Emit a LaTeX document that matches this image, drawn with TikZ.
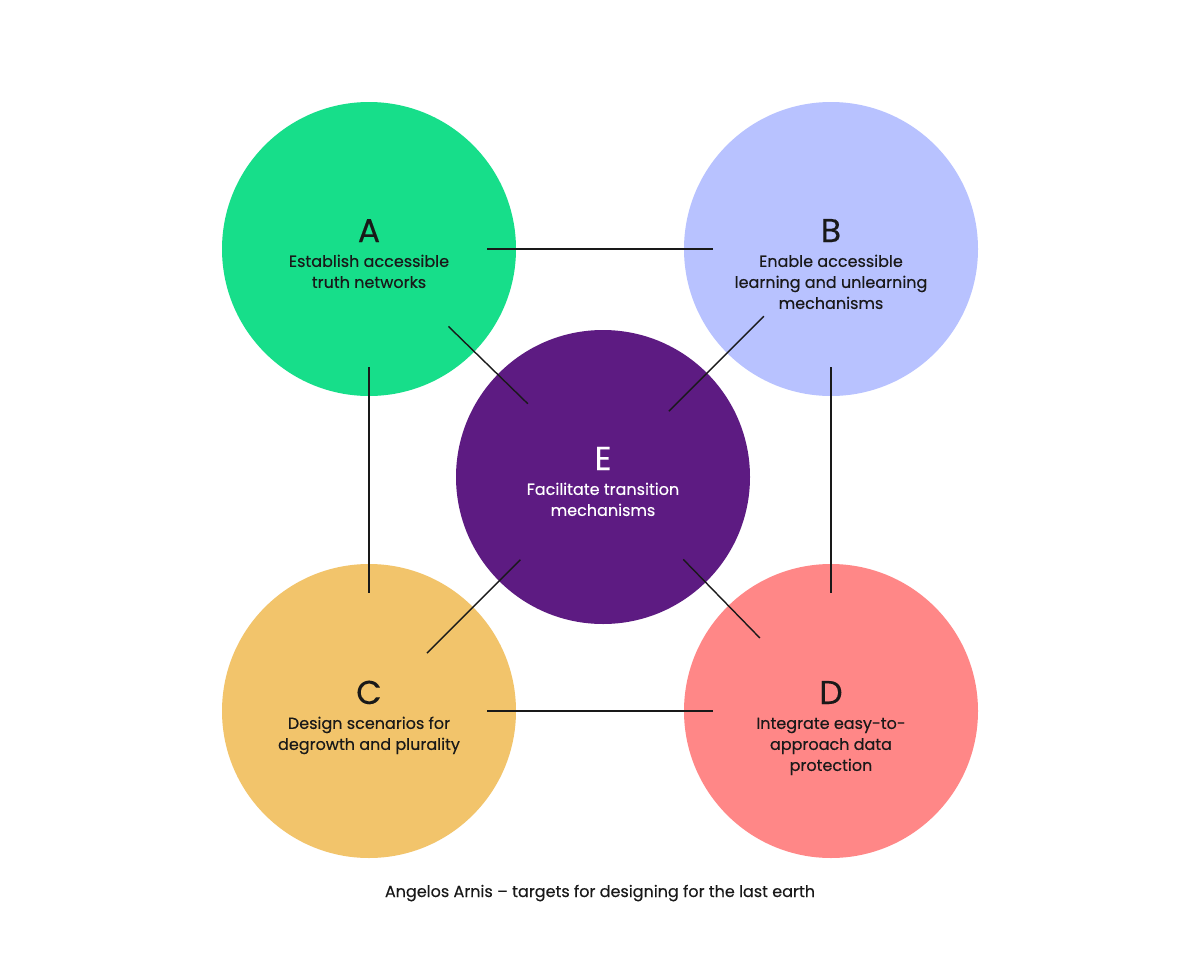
\documentclass[tikz,border=0pt]{standalone}
\usepackage{fontspec}
\setmainfont[FakeBold=0.3]{Poppins}
\usetikzlibrary{positioning}
\definecolor{TruthGreen}{RGB}{23,222,138}
\definecolor{LearnBlue}{RGB}{184,194,255}
\definecolor{PluralGold}{RGB}{242,196,107}
\definecolor{DataRose}{RGB}{255,135,135}
\definecolor{ShiftPurple}{RGB}{93,27,130}
\definecolor{InkGray}{RGB}{25,25,25}

\begin{document}
\begin{tikzpicture}[x=1pt,y=-1pt,
    blob/.style={circle,minimum size=294pt,inner sep=0pt},
    letr/.style={font=\fontsize{33}{33}\selectfont,inner sep=0pt,anchor=base,text=InkGray},
    desc/.style={font=\fontsize{16}{21}\selectfont,align=center,inner sep=0pt,anchor=north,text=InkGray},
    link/.style={line width=1.4pt,InkGray}]
  \useasboundingbox (0,0) rectangle (1200,961);
  \fill[white] (0,0) rectangle (1200,961);
  \foreach \n/\x/\y/\c in {A/369/249/TruthGreen,B/831/249/LearnBlue,
      C/369/711/PluralGold,D/831/711/DataRose,E/603/477/ShiftPurple}{
    \node[blob,fill=\c] (\n) at (\x,\y) {};}
  % letters and targets
  \foreach \n/\txt in {A/{Establish accessible\\truth networks},
      B/{Enable accessible\\learning and unlearning\\mechanisms},
      C/{Design scenarios for\\degrowth and plurality},
      D/{Integrate easy-to-\\approach data\\protection}}{
    \node[letr] (\n-let) at ([yshift=7pt]\n.center) {\n};
    \node[desc] (\n-txt) at ([yshift=-3pt]\n.center) {\strut\txt};}
  \node[letr,text=white] (E-let) at ([yshift=7pt]E.center) {E};
  \node[desc,text=white] (E-txt) at ([yshift=-3pt]E.center) {\strut Facilitate transition\\mechanisms};
  % links
  \foreach \a/\b in {A/B,A/C,B/D,C/D}
    \draw[link,shorten <=118pt,shorten >=118pt] (\a.center)--(\b.center);
  \foreach \a/\s/\t in {A/111/105,B/95/93,C/82/117,D/102/115}
    \draw[link,shorten <=\s pt,shorten >=\t pt] (\a.center)--(E.center);
  \node[font=\fontsize{16}{21}\selectfont,anchor=base,inner sep=0pt,text=InkGray] (caption) at (600,897)
    {Angelos Arnis -- targets for designing for the last earth};
\end{tikzpicture}
\end{document}
